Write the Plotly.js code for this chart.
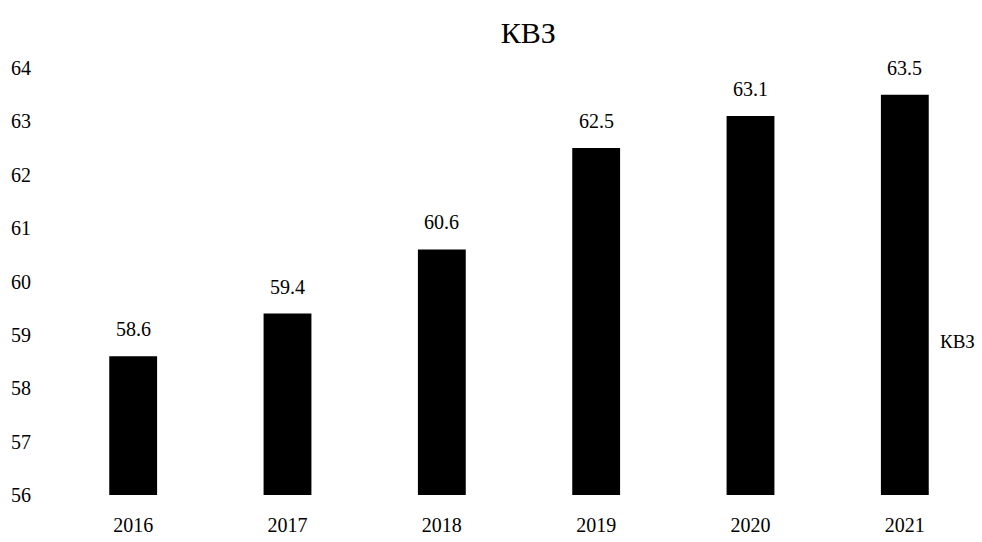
<!DOCTYPE html>
<html>
<head>
<meta charset="utf-8">
<script src="https://cdn.plot.ly/plotly-3.0.1.min.js"></script>
<style>
  html, body { margin: 0; padding: 0; background: #fff; }
  #chart { width: 982px; height: 542px; }
</style>
</head>
<body>
<div id="chart"></div>
<script>
// Годы и значения показателя КВЗ
const years = ['2016', '2017', '2018', '2019', '2020', '2021'];
const kvzValues = [58.6, 59.4, 60.6, 62.5, 63.1, 63.5];
const yTicks = [56, 57, 58, 59, 60, 61, 62, 63, 64];
const seriesName = 'КВЗ';

const serif = '"Liberation Serif", "Times New Roman", "DejaVu Serif", serif';

const trace = {
  type: 'bar',
  x: years,
  y: kvzValues.map(v => v - 56),
  base: 56,
  name: seriesName,
  marker: { color: '#000000', line: { width: 0 } },
  width: 0.31,
  hoverinfo: 'skip'
};

// Подписи значений над столбцами (позиция по порядковому номеру категории)
const valueLabels = years.map((yr, i) => ({
  x: i,
  y: kvzValues[i],
  xref: 'x',
  yref: 'y',
  text: kvzValues[i].toFixed(1),
  showarrow: false,
  yanchor: 'bottom',
  yshift: 14,
  font: { family: serif, size: 20, color: '#000' }
}));

const layout = {
  width: 982,
  height: 542,
  paper_bgcolor: '#ffffff',
  plot_bgcolor: '#ffffff',
  margin: { l: 56, r: 0, t: 68, b: 47 },
  showlegend: false,
  font: { family: serif, color: '#000' },
  title: {
    text: seriesName,
    x: 0.538,
    xanchor: 'center',
    y: 0.94,
    yanchor: 'middle',
    font: { family: serif, size: 30, color: '#000' }
  },
  xaxis: {
    type: 'category',
    range: [-0.5, 5.5],
    showgrid: false,
    zeroline: false,
    showline: false,
    ticks: '',
    ticklabelstandoff: 16,
    tickfont: { family: serif, size: 20, color: '#000' }
  },
  yaxis: {
    range: [56, 64],
    tickvals: yTicks,
    ticktext: yTicks.map(String),
    showgrid: false,
    zeroline: false,
    showline: false,
    ticks: '',
    ticklabelstandoff: 24,
    tickfont: { family: serif, size: 20, color: '#000' }
  },
  annotations: valueLabels.concat([{
    xref: 'paper',
    yref: 'paper',
    x: 0.952,
    y: 0.36,
    xanchor: 'left',
    yanchor: 'middle',
    text: seriesName,
    showarrow: false,
    font: { family: serif, size: 19, color: '#000' }
  }])
};

Plotly.newPlot('chart', [trace], layout, { displayModeBar: false, staticPlot: true });
</script>
</body>
</html>
